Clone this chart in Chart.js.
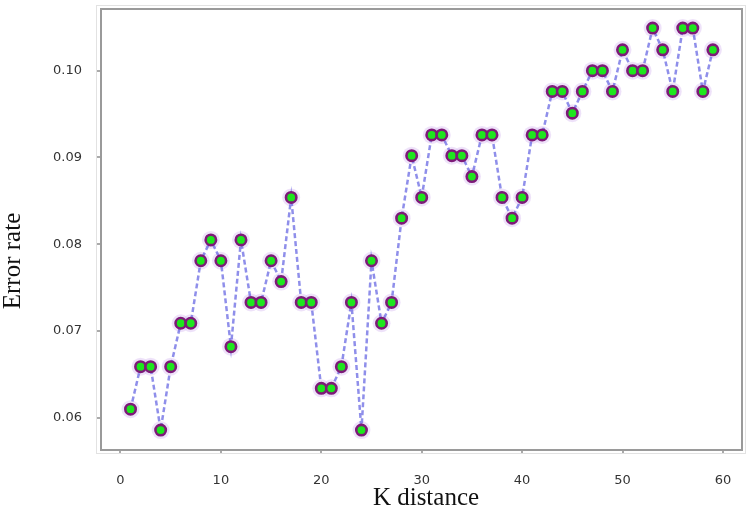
<!DOCTYPE html>
<html>
<head>
<meta charset="utf-8">
<script src="https://cdn.jsdelivr.net/npm/chart.js@4.4.0/dist/chart.umd.min.js"></script>
<style>
  html, body { margin: 0; padding: 0; background: #fff; }
  #wrap { width: 751px; height: 514px; }
</style>
</head>
<body>
<div id="wrap"><canvas id="chart"></canvas></div>
<script>
// K values and the error rate
var kValues = [1, 2, 3, 4, 5, 6, 7, 8, 9, 10,
  11, 12, 13, 14, 15, 16, 17, 18, 19, 20,
  21, 22, 23, 24, 25, 26, 27, 28, 29, 30,
  31, 32, 33, 34, 35, 36, 37, 38, 39, 40,
  41, 42, 43, 44, 45, 46, 47, 48, 49, 50,
  51, 52, 53, 54, 55, 56, 57, 58, 59];
var errorRate = [0.0610, 0.0659, 0.0659, 0.0586, 0.0659, 0.0709, 0.0709, 0.0781, 0.0805, 0.0781,
  0.0682, 0.0805, 0.0733, 0.0733, 0.0781, 0.0757, 0.0854, 0.0733, 0.0733, 0.0634,
  0.0634, 0.0659, 0.0733, 0.0586, 0.0781, 0.0709, 0.0733, 0.0830, 0.0902, 0.0854,
  0.0926, 0.0926, 0.0902, 0.0902, 0.0878, 0.0926, 0.0926, 0.0854, 0.0830, 0.0854,
  0.0926, 0.0926, 0.0976, 0.0976, 0.0951, 0.0976, 0.1000, 0.1000, 0.0976, 0.1024,
  0.1000, 0.1000, 0.1049, 0.1024, 0.0976, 0.1049, 0.1049, 0.0976, 0.1024];
var xTicks = [0, 10, 20, 30, 40, 50, 60];
var yTicks = [0.06, 0.07, 0.08, 0.09, 0.10];

var points = kValues.map(function (k, i) { return { x: k, y: errorRate[i] }; });

// frame round the plot area and the two axis titles
var framePlugin = {
  id: 'frame',
  afterDraw: function (chart) {
    var ctx = chart.ctx, a = chart.chartArea;
    ctx.save();
    ctx.strokeStyle = '#e2e2e2';
    ctx.lineWidth = 1;
    ctx.strokeRect(a.left - 3.5, a.top - 3.5, a.right - a.left + 7, a.bottom - a.top + 7);
    ctx.strokeStyle = '#9a9a9a';
    ctx.lineWidth = 2;
    ctx.strokeRect(a.left + 1, a.top, a.right - a.left - 1, a.bottom - a.top);

    ctx.fillStyle = '#111';
    ctx.font = '25px "Liberation Serif", "DejaVu Serif", serif';
    ctx.textAlign = 'center';
    ctx.textBaseline = 'middle';
    ctx.fillText('K distance', 426, 498);
    ctx.translate(13, 261);
    ctx.rotate(-Math.PI / 2);
    ctx.fillText('Error rate', 0, 0);
    ctx.restore();
  }
};

new Chart(document.getElementById('chart').getContext('2d'), {
  type: 'scatter',
  data: {
    datasets: [{
      // soft halo under the markers
      data: points,
      showLine: false,
      pointRadius: 9,
      pointBackgroundColor: 'rgba(200, 160, 235, 0.3)',
      pointBorderWidth: 0,
      order: 2
    }, {
      data: points,
      showLine: true,
      borderColor: 'rgba(95, 95, 225, 0.7)',
      borderWidth: 2.5,
      borderDash: [5, 3],
      pointRadius: 5.2,
      pointBackgroundColor: '#1ee61e',
      pointBorderColor: '#7d1a78',
      pointBorderWidth: 2.6,
      order: 1
    }]
  },
  options: {
    responsive: true,
    maintainAspectRatio: false,
    animation: false,
    events: [],
    layout: { padding: { top: 6, right: 9, left: 0, bottom: 0 } },
    plugins: { legend: { display: false }, tooltip: { enabled: false } },
    scales: {
      x: {
        type: 'linear',
        min: -2.04,
        max: 61.9,
        afterFit: function (scale) {
          scale.height = 64;
          scale.paddingLeft = 0;
          scale.paddingRight = 0;
        },
        afterBuildTicks: function (scale) {
          scale.ticks = xTicks.map(function (v) { return { value: v }; });
        },
        grid: { drawOnChartArea: false, tickLength: 4, color: '#aaa', lineWidth: 2 },
        border: { display: false },
        ticks: {
          padding: 19,
          color: '#333',
          font: { family: 'DejaVu Sans', size: 13 },
          maxRotation: 0,
          callback: function (v) { return String(v); }
        }
      },
      y: {
        type: 'linear',
        min: 0.0563,
        max: 0.1071,
        afterFit: function (scale) {
          scale.width = 100;
          scale.paddingTop = 0;
          scale.paddingBottom = 0;
        },
        afterBuildTicks: function (scale) {
          scale.ticks = yTicks.map(function (v) { return { value: v }; });
        },
        grid: { drawOnChartArea: false, tickLength: 3, color: '#aaa', lineWidth: 2 },
        border: { display: false },
        ticks: {
          padding: 15,
          color: '#333',
          font: { family: 'DejaVu Sans', size: 13 },
          callback: function (v) { return v.toFixed(2); }
        }
      }
    }
  },
  plugins: [framePlugin]
});
</script>
</body>
</html>
